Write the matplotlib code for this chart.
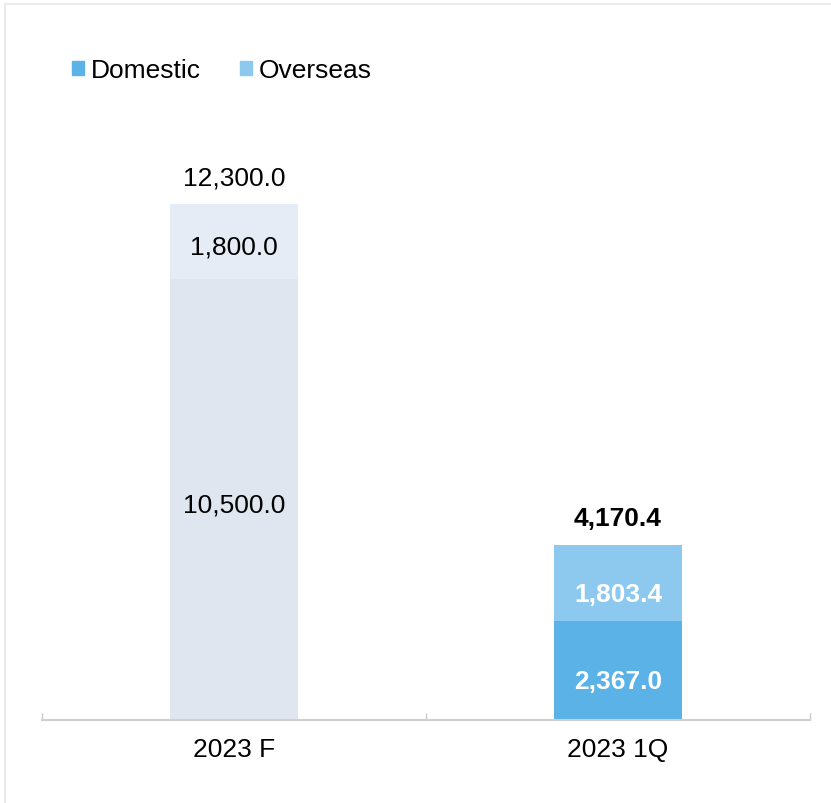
import matplotlib
matplotlib.use('Agg')
import matplotlib.pyplot as plt
from matplotlib.patches import Patch
from matplotlib.lines import Line2D
import numpy as np

plt.rcParams['font.family'] = ['Liberation Sans', 'DejaVu Sans']

categories = ['2023 F', '2023 1Q']
domestic = [10500.0, 2367.0]
overseas = [1800.0, 1803.4]
# forecast bar is drawn in pale grey, actual in blue
domestic_colors = ['#DFE6F0', '#5BB2E6']
overseas_colors = ['#E6ECF5', '#8DC9EF']
label_colors = ['black', 'white']
label_weights = ['normal', 'bold']
label_shift = [-2, -6]   # points, vertical nudge of in-bar labels

fig = plt.figure(figsize=(8.31, 8.04), dpi=100)
ax = fig.add_axes([42 / 831, 83 / 804, 768 / 831, 621 / 804])

x = np.arange(len(categories))
width = 0.333
ax.bar(x, domestic, width, color=domestic_colors)
ax.bar(x, overseas, width, bottom=domestic, color=overseas_colors)

fs = 19
for i in range(len(categories)):
    d, o = domestic[i], overseas[i]
    for val, ypos in [(d, d / 2), (o, d + o / 2)]:
        ax.annotate(f'{val:,.1f}', (x[i], ypos), xytext=(0, label_shift[i]),
                    textcoords='offset points', ha='center',
                    va='center_baseline', fontsize=fs,
                    color=label_colors[i], weight=label_weights[i])
    ax.annotate(f'{d + o:,.1f}', (x[i], d + o), xytext=(0, 21),
                textcoords='offset points', ha='center',
                va='center_baseline', fontsize=fs, color='black',
                weight=label_weights[i])

ax.set_xlim(-0.5, 1.5)
ax.set_ylim(0, 14800)
ax.set_yticks([])
ax.set_xticks(x)
ax.set_xticklabels(categories, fontsize=fs)
ax.tick_params(axis='x', which='major', length=0, pad=12)
ax.set_xticks([-0.5, 0.5, 1.5], minor=True)
ax.tick_params(axis='x', which='minor', direction='in', length=5,
               color='#C8C8C8', width=1)
for s in ['top', 'left', 'right']:
    ax.spines[s].set_visible(False)
ax.spines['bottom'].set_color('#D0D0D0')
ax.spines['bottom'].set_linewidth(1.5)

handles = [Patch(color=domestic_colors[1]), Patch(color=overseas_colors[1])]
fig.legend(handles, ['Domestic', 'Overseas'], loc='center left',
           bbox_to_anchor=(72 / 831, 1 - 71 / 804), ncol=2, frameon=False,
           fontsize=fs, handlelength=0.45, handleheight=0.45,
           handletextpad=0.25, columnspacing=1.5, borderpad=0, borderaxespad=0)

# thin frame at top and left edges
fig.add_artist(Line2D([5 / 831, 1], [1 - 5 / 804, 1 - 5 / 804],
                      transform=fig.transFigure, color='#EBEBEB', lw=1.5))
fig.add_artist(Line2D([5 / 831, 5 / 831], [0, 1 - 5 / 804],
                      transform=fig.transFigure, color='#EBEBEB', lw=1.5))

fig.savefig('out.png', dpi=100)
